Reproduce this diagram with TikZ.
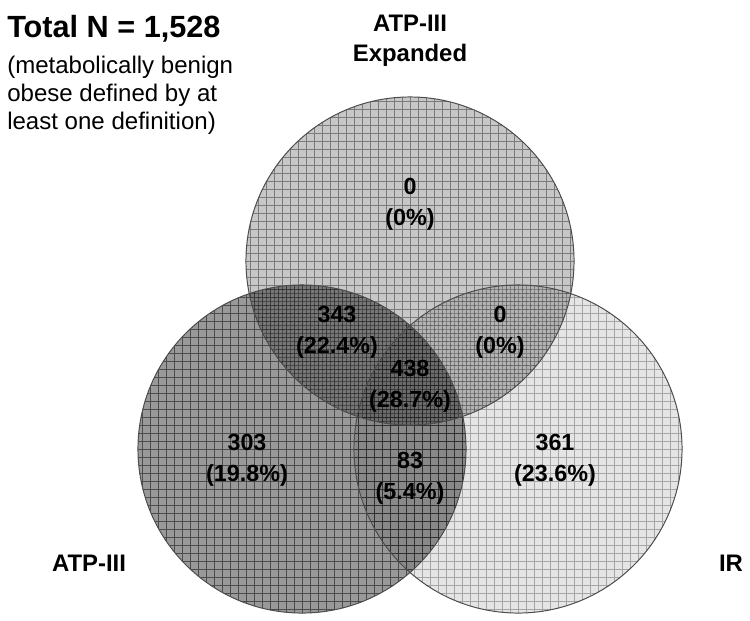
\documentclass[tikz,border=0pt]{standalone}
\usepackage{fontspec}
\setmainfont{Liberation Sans}
\begin{document}
\begin{tikzpicture}[
    x=0.025cm, y=-0.025cm,
    set/.style={draw=black!70, line width=0.7pt},
    gridlines/.style={line width=0.5pt, step=0.2cm},
    count/.style={align=center, inner sep=0pt, font=\fontsize{16.6}{21.8}\selectfont\bfseries},
    setname/.style={align=center, inner sep=0pt, font=\fontsize{17}{21.5}\selectfont\bfseries}
  ]
  \useasboundingbox (0,0) rectangle (750,620);
  \coordinate (atpx) at (410,261);
  \coordinate (atp) at (302,449);
  \coordinate (ir) at (518,449);
  \foreach \c/\f/\g in {atp/0.4/0.5, atpx/0.22/0.38, ir/0.1/0.28} {
    \fill[black, fill opacity=\f] (\c) circle[radius=4.1cm];
    \begin{scope}
      \clip (\c) circle[radius=4.1cm];
      \draw[gridlines, black, opacity=\g, shift={(\c)}] (-170,-170) grid (170,170);
    \end{scope}
  }
  \foreach \c in {atp, atpx, ir}
    \draw[set] (\c) circle[radius=4.1cm];

  \node[anchor=base west, inner sep=0pt, font=\fontsize{21.8}{24}\selectfont\bfseries] (total) at (7,37) {Total N = 1,528};
  \node[anchor=north west, inner sep=0pt, align=left, font=\fontsize{17.1}{19.8}\selectfont] (note) at (7,56) {(metabolically benign\\obese defined by at\\least one definition)};

  \node[setname] (atpxname) at (410,41) {ATP-III\\Expanded};
  \node[setname] (atpname) at (89,563) {ATP-III};
  \node[setname] (irname) at (731,563) {IR};

  \node[count] (onlyatpx) at (410,204) {0\\(0\%)};
  \node[count] (atpatpx) at (337,332) {343\\(22.4\%)};
  \node[count] (all) at (410,386) {438\\(28.7\%)};
  \node[count] (atpxir) at (500,332) {0\\(0\%)};
  \node[count] (onlyatp) at (247,460) {303\\(19.8\%)};
  \node[count] (atpir) at (410,478) {83\\(5.4\%)};
  \node[count] (onlyir) at (555,460) {361\\(23.6\%)};
\end{tikzpicture}
\end{document}
